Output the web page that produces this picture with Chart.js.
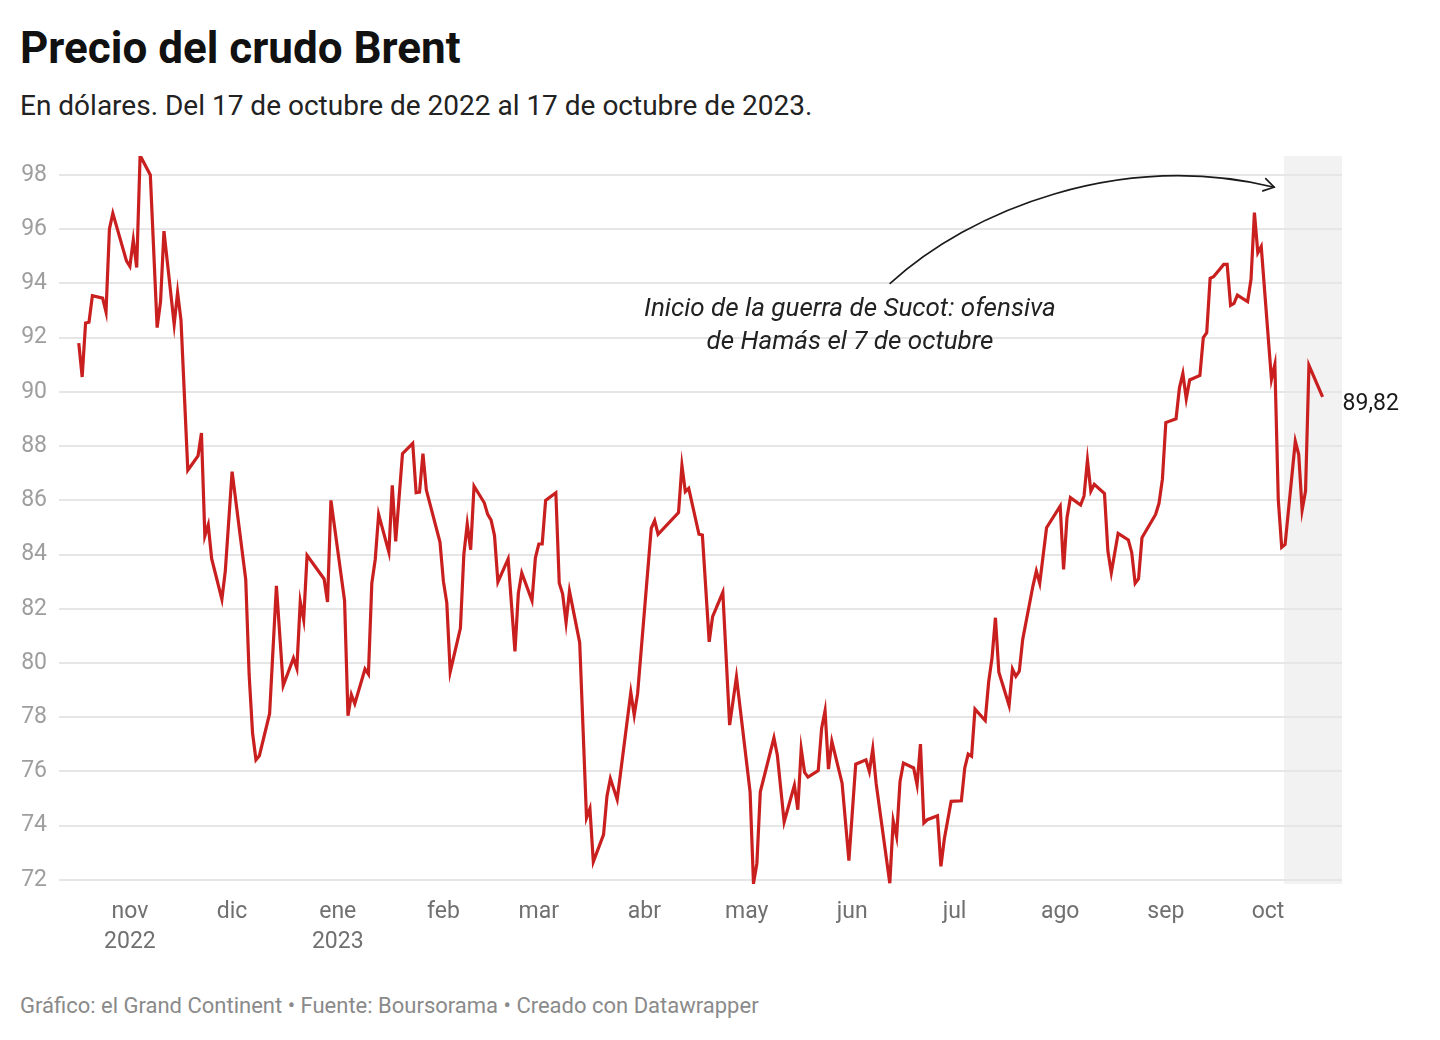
<!DOCTYPE html>
<html lang="es">
<head>
<meta charset="utf-8">
<title>Precio del crudo Brent</title>
<script src="https://cdn.jsdelivr.net/npm/chart.js@4.4.0/dist/chart.umd.min.js"></script>
<style>
  html, body { margin: 0; padding: 0; background: #fff; }
  body { width: 1440px; height: 1040px; position: relative; overflow: hidden; font-family: Roboto, "Noto Sans", sans-serif; }
  .txt { position: absolute; left: 20px; line-height: 1; white-space: nowrap; }
  #titulo { top: 26px; font-size: 44px; font-weight: 700; color: #111; }
  #subtitulo { top: 92px; font-size: 28px; color: #222; }
  #pie { top: 995px; font-size: 22px; color: #8a8a8a; }
  #wrap { position: absolute; left: 0; top: 140px; width: 1440px; height: 820px; }
</style>
</head>
<body>
<div class="txt" id="titulo">Precio del crudo Brent</div>
<div class="txt" id="subtitulo">En dólares. Del 17 de octubre de 2022 al 17 de octubre de 2023.</div>
<div id="wrap"><canvas id="brentChart"></canvas></div>
<div class="txt" id="pie">Gráfico: el Grand Continent • Fuente: Boursorama • Creado con Datawrapper</div>

<script>
// días contados desde el 17/10/2022 (día 0) hasta el 17/10/2023 (día 365)
const dias = [
  0, 1, 2, 3, 4,
  7, 8, 9, 10,
  14, 15, 16, 17, 18,
  21, 23, 24, 25,
  28, 29, 30, 32,
  35, 36, 37, 38, 39,
  42, 43, 45,
  49, 50, 51, 52, 53,
  56, 58, 60,
  63, 64, 65, 66, 67,
  72, 73, 74,
  78, 79, 80, 81,
  84, 85, 86, 87, 88,
  91, 92, 93, 95,
  98, 99, 100, 101, 102,
  106, 107, 108, 109,
  112, 113, 114, 115, 116,
  119, 120, 121, 122, 123,
  126, 128, 129, 130,
  133, 134, 135, 136, 137,
  140, 141, 142, 143, 144,
  147, 149, 150, 151,
  154, 155, 156, 158,
  162, 163, 164,
  168, 169, 170,
  176, 177, 178, 179,
  182, 183, 185, 186,
  189, 191, 193,
  197, 198, 199, 200,
  204, 205, 207,
  210, 211, 212, 213, 214,
  217, 218, 219, 220, 221,
  224, 226, 228,
  231, 232, 233, 234,
  238, 239, 240, 241, 242,
  245, 246, 247, 248, 249,
  252, 253, 254, 256,
  259, 260, 261, 262, 263,
  266, 267, 268, 269, 270,
  273, 274, 275, 276, 277,
  280, 281, 282, 284,
  288, 289, 290, 291,
  294, 295, 296, 297, 298,
  301, 302, 303, 305,
  308, 309, 310, 311, 312,
  316, 317, 318, 319,
  322, 323, 324, 325, 326,
  329, 330, 331, 332, 333,
  336, 337, 338, 339, 340,
  343, 344, 345, 346, 347,
  350, 351, 352, 353, 354,
  357, 358, 359, 360, 361,
  365
];

const precios = [
  91.80, 90.55, 92.54, 92.57, 93.55,
  93.46, 92.95, 96.01, 96.59,
  94.83, 94.63, 95.60, 94.59, 98.72,
  98.00, 92.37, 93.33, 95.93,
  92.49, 93.67, 92.64, 87.11,
  87.64, 88.48, 84.69, 85.10, 83.85,
  82.35, 83.39, 87.06,
  83.08, 79.56, 77.42, 76.43, 76.58,
  78.13, 82.85, 79.17,
  80.18, 79.80, 82.26, 81.60, 83.97,
  83.10, 82.25, 86.00,
  82.30, 78.06, 78.83, 78.50,
  79.78, 79.59, 82.95, 83.82, 85.48,
  84.09, 86.55, 84.49, 87.72,
  88.10, 86.28, 86.30, 87.72, 86.38,
  84.46, 83.02, 82.22, 79.67,
  81.29, 84.00, 85.13, 84.18, 86.52,
  85.91, 85.48, 85.27, 84.70, 82.99,
  83.84, 80.43, 82.58, 83.32,
  82.30, 83.88, 84.39, 84.39, 86.00,
  86.28, 82.95, 82.54, 81.49, 82.65,
  80.75, 74.29, 74.63, 72.67,
  73.67, 75.09, 75.74, 74.97,
  78.92, 78.08, 78.88,
  84.97, 85.25, 84.75,
  85.55, 87.28, 86.32, 86.44,
  84.75, 84.72, 80.78, 81.71,
  82.61, 77.71, 79.49,
  75.25, 71.87, 72.61, 75.25,
  77.24, 76.60, 74.14,
  75.49, 74.59, 76.83, 75.97, 75.79,
  76.03, 77.60, 78.24, 76.09, 77.11,
  75.57, 72.71, 76.27,
  76.43, 76.00, 76.83, 75.55,
  71.88, 74.18, 73.60, 75.63, 76.31,
  76.13, 75.51, 77.01, 74.10, 74.22,
  74.37, 72.50, 73.51, 74.90,
  74.92, 76.13, 76.64, 76.56, 78.30,
  77.88, 79.29, 80.19, 81.67, 79.66,
  78.44, 79.78, 79.51, 79.70, 80.87,
  82.84, 83.39, 82.94, 84.99,
  85.79, 83.45, 85.36, 86.10,
  85.83, 86.16, 87.48, 86.34, 86.59,
  86.25, 84.13, 83.33, 84.78,
  84.54, 84.07, 82.94, 83.11, 84.62,
  85.48, 85.89, 86.78, 88.87,
  89.01, 90.15, 90.68, 89.75, 90.44,
  90.61, 92.00, 92.18, 94.19, 94.25,
  94.70, 94.70, 93.19, 93.26, 93.57,
  93.33, 94.15, 96.61, 95.13, 95.36,
  90.46, 91.01, 86.03, 84.27, 84.37,
  88.18, 87.69, 85.64, 86.34, 90.98,
  89.82
];

// ticks del eje x: primer día de cada mes
const mesesDia = [15, 45, 76, 107, 135, 166, 196, 227, 257, 288, 319, 349];
const mesesEtiqueta = [["nov", "2022"], "dic", ["ene", "2023"], "feb", "mar", "abr", "may", "jun", "jul", "ago", "sep", "oct"];
const ticksY = [72, 74, 76, 78, 80, 82, 84, 86, 88, 90, 92, 94, 96, 98];

const notaTexto = ["Inicio de la guerra de Sucot: ofensiva", "de Hamás el 7 de octubre"];
const sombraDesde = 353.7; // 6-7 de octubre de 2023

const rojo = "#c91f1f";

const annotations = {
  id: "annotations",
  beforeDraw(chart) {
    const { ctx, chartArea, scales } = chart;
    const x0 = scales.x.getPixelForValue(sombraDesde);
    ctx.save();
    ctx.fillStyle = "#f2f2f2";
    ctx.fillRect(x0, chartArea.top, chartArea.right - x0, chartArea.bottom - chartArea.top);
    ctx.restore();
  },
  afterDatasetsDraw(chart) {
    const { ctx, scales } = chart;
    const px = (d, v) => [scales.x.getPixelForValue(d), scales.y.getPixelForValue(v)];

    // flecha curva
    const p0 = px(238.1, 94.0);
    const c1 = px(261.5, 96.7);
    const c2 = px(305.6, 98.92);
    const p3 = px(350.8, 97.55);
    ctx.save();
    ctx.strokeStyle = "#1a1a1a";
    ctx.lineWidth = 1.6;
    ctx.lineCap = "round";
    ctx.beginPath();
    ctx.moveTo(p0[0], p0[1]);
    ctx.bezierCurveTo(c1[0], c1[1], c2[0], c2[1], p3[0], p3[1]);
    ctx.stroke();
    const ang = Math.atan2(p3[1] - c2[1], p3[0] - c2[0]);
    ctx.beginPath();
    ctx.moveTo(p3[0] - 12 * Math.cos(ang - 0.55), p3[1] - 12 * Math.sin(ang - 0.55));
    ctx.lineTo(p3[0], p3[1]);
    ctx.lineTo(p3[0] - 12 * Math.cos(ang + 0.55), p3[1] - 12 * Math.sin(ang + 0.55));
    ctx.stroke();

    // texto de la nota
    ctx.fillStyle = "#222";
    ctx.font = "italic 26px Roboto";
    ctx.textAlign = "center";
    ctx.textBaseline = "middle";
    const t1 = px(226.3, 93.04);
    const t2 = px(226.3, 91.82);
    ctx.fillText(notaTexto[0], t1[0], t1[1]);
    ctx.fillText(notaTexto[1], t2[0], t2[1]);

    // valor final
    const last = dias.length - 1;
    const pl = px(dias[last], precios[last]);
    ctx.font = "23px Roboto";
    ctx.textAlign = "left";
    ctx.fillStyle = "#1a1a1a";
    ctx.fillText(precios[last].toFixed(2).replace(".", ","), pl[0] + 20, pl[1] + 7);
    ctx.restore();
  }
};

const ctx = document.getElementById("brentChart");
new Chart(ctx, {
  type: "line",
  data: {
    datasets: [{
      label: "Brent",
      data: dias.map((d, i) => ({ x: d, y: precios[i] })),
      borderColor: rojo,
      borderWidth: 3.2,
      pointRadius: 0,
      tension: 0,
      fill: false
    }]
  },
  options: {
    responsive: true,
    maintainAspectRatio: false,
    animation: false,
    layout: { padding: { top: 16, right: 98, left: 0, bottom: 0 } },
    plugins: { legend: { display: false }, tooltip: { enabled: false } },
    scales: {
      x: {
        type: "linear",
        min: -5.8,
        max: 370.7,
        grid: { display: false },
        border: { display: false },
        afterBuildTicks: (scale) => { scale.ticks = mesesDia.map(v => ({ value: v })); },
        afterFit: (scale) => {
          scale.height = 76;
          scale.paddingLeft = 0;
          scale.paddingRight = 0;
        },
        ticks: {
          autoSkip: false,
          maxRotation: 0,
          padding: 5,
          color: "#707070",
          font: { family: "Roboto", size: 23, lineHeight: 1.3 },
          callback: (value, index) => mesesEtiqueta[index]
        }
      },
      y: {
        min: 71.85,
        max: 98.7,
        grid: { color: "#e6e6e6", lineWidth: 2, drawTicks: false },
        border: { display: false },
        afterBuildTicks: (scale) => { scale.ticks = ticksY.map(v => ({ value: v })); },
        afterFit: (scale) => {
          scale.width = 59;
          scale.paddingTop = 0;
          scale.paddingBottom = 0;
        },
        ticks: {
          padding: 12,
          color: "#9e9e9e",
          font: { family: "Roboto", size: 23 },
          callback: (value) => value
        }
      }
    }
  },
  plugins: [annotations]
});
</script>
</body>
</html>
